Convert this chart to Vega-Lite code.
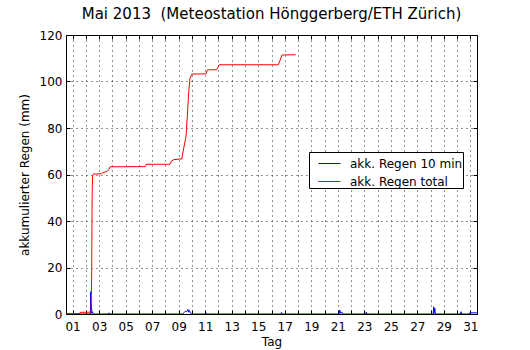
{
  "$schema": "https://vega.github.io/schema/vega-lite/v6.json",
  "width": 411,
  "height": 279,
  "autosize": {"type": "none"},
  "padding": {"left": 66, "top": 35, "right": 53, "bottom": 36},
  "background": "white",
  "title": {"text": "Mai 2013\u00a0 (Meteostation Hönggerberg/ETH Zürich)", "fontSize": 15, "fontWeight": "normal", "font": "DejaVu Sans", "color": "black", "offset": 7, "anchor": "middle"},
  "config": {
    "font": "DejaVu Sans",
    "view": {"stroke": "black", "strokeWidth": 1},
    "axis": {"labelFont": "DejaVu Sans", "titleFont": "DejaVu Sans", "labelColor": "black", "titleColor": "black", "tickColor": "black", "domain": false, "labelFontSize": 12, "titleFontSize": 12, "titleFontWeight": "normal", "gridColor": "black", "gridDash": [1, 4], "gridOpacity": 0.85, "gridWidth": 1}
  },
  "datasets": {
    "total": [
      {"t": 0, "v": 0.2, "s": "akk. Regen total"},
      {"t": 1.05, "v": 0.2, "s": "akk. Regen total"},
      {"t": 1.06, "v": 0.7, "s": "akk. Regen total"},
      {"t": 1.9, "v": 0.8, "s": "akk. Regen total"},
      {"t": 1.94, "v": 20, "s": "akk. Regen total"},
      {"t": 1.97, "v": 50, "s": "akk. Regen total"},
      {"t": 2.0, "v": 59, "s": "akk. Regen total"},
      {"t": 2.05, "v": 60.2, "s": "akk. Regen total"},
      {"t": 2.69, "v": 60.3, "s": "akk. Regen total"},
      {"t": 2.75, "v": 60.8, "s": "akk. Regen total"},
      {"t": 3.02, "v": 61.2, "s": "akk. Regen total"},
      {"t": 3.15, "v": 61.6, "s": "akk. Regen total"},
      {"t": 3.24, "v": 62.2, "s": "akk. Regen total"},
      {"t": 3.32, "v": 63.3, "s": "akk. Regen total"},
      {"t": 5.96, "v": 63.4, "s": "akk. Regen total"},
      {"t": 6.05, "v": 64.4, "s": "akk. Regen total"},
      {"t": 7.84, "v": 64.4, "s": "akk. Regen total"},
      {"t": 7.95, "v": 65.8, "s": "akk. Regen total"},
      {"t": 8.14, "v": 66.4, "s": "akk. Regen total"},
      {"t": 8.73, "v": 66.7, "s": "akk. Regen total"},
      {"t": 8.85, "v": 70.5, "s": "akk. Regen total"},
      {"t": 9.05, "v": 76.3, "s": "akk. Regen total"},
      {"t": 9.15, "v": 85, "s": "akk. Regen total"},
      {"t": 9.25, "v": 95, "s": "akk. Regen total"},
      {"t": 9.35, "v": 101.4, "s": "akk. Regen total"},
      {"t": 9.5, "v": 103.2, "s": "akk. Regen total"},
      {"t": 10.56, "v": 103.3, "s": "akk. Regen total"},
      {"t": 10.66, "v": 105, "s": "akk. Regen total"},
      {"t": 11.37, "v": 105.1, "s": "akk. Regen total"},
      {"t": 11.56, "v": 107.2, "s": "akk. Regen total"},
      {"t": 16.01, "v": 107.2, "s": "akk. Regen total"},
      {"t": 16.14, "v": 109, "s": "akk. Regen total"},
      {"t": 16.29, "v": 111.4, "s": "akk. Regen total"},
      {"t": 17.32, "v": 111.5, "s": "akk. Regen total"}
    ],
    "tenmin": [
      {"t": 0, "v": 0, "s": "akk. Regen 10 min"},
      {"t": 1.84, "v": 0, "s": "akk. Regen 10 min"},
      {"t": 1.86, "v": 9.6, "s": "akk. Regen 10 min"},
      {"t": 1.88, "v": 0.5, "s": "akk. Regen 10 min"},
      {"t": 1.92, "v": 4, "s": "akk. Regen 10 min"},
      {"t": 1.95, "v": 0.3, "s": "akk. Regen 10 min"},
      {"t": 2.0, "v": 1, "s": "akk. Regen 10 min"},
      {"t": 2.05, "v": 0, "s": "akk. Regen 10 min"},
      {"t": 3.2, "v": 0, "s": "akk. Regen 10 min"},
      {"t": 3.25, "v": 0.5, "s": "akk. Regen 10 min"},
      {"t": 3.3, "v": 0, "s": "akk. Regen 10 min"},
      {"t": 8.8, "v": 0, "s": "akk. Regen 10 min"},
      {"t": 8.9, "v": 0.6, "s": "akk. Regen 10 min"},
      {"t": 9.0, "v": 1.2, "s": "akk. Regen 10 min"},
      {"t": 9.1, "v": 1.0, "s": "akk. Regen 10 min"},
      {"t": 9.2, "v": 2.0, "s": "akk. Regen 10 min"},
      {"t": 9.25, "v": 0.8, "s": "akk. Regen 10 min"},
      {"t": 9.3, "v": 1.5, "s": "akk. Regen 10 min"},
      {"t": 9.4, "v": 0.3, "s": "akk. Regen 10 min"},
      {"t": 9.5, "v": 0, "s": "akk. Regen 10 min"},
      {"t": 10.5, "v": 0, "s": "akk. Regen 10 min"},
      {"t": 10.55, "v": 0.6, "s": "akk. Regen 10 min"},
      {"t": 10.6, "v": 0, "s": "akk. Regen 10 min"},
      {"t": 16.2, "v": 0, "s": "akk. Regen 10 min"},
      {"t": 16.26, "v": 0.7, "s": "akk. Regen 10 min"},
      {"t": 16.3, "v": 0, "s": "akk. Regen 10 min"},
      {"t": 20.6, "v": 0, "s": "akk. Regen 10 min"},
      {"t": 20.65, "v": 1.7, "s": "akk. Regen 10 min"},
      {"t": 20.7, "v": 0.3, "s": "akk. Regen 10 min"},
      {"t": 20.8, "v": 0.9, "s": "akk. Regen 10 min"},
      {"t": 20.85, "v": 0, "s": "akk. Regen 10 min"},
      {"t": 22.6, "v": 0, "s": "akk. Regen 10 min"},
      {"t": 22.65, "v": 0.8, "s": "akk. Regen 10 min"},
      {"t": 22.7, "v": 0, "s": "akk. Regen 10 min"},
      {"t": 27.7, "v": 0, "s": "akk. Regen 10 min"},
      {"t": 27.73, "v": 3.1, "s": "akk. Regen 10 min"},
      {"t": 27.76, "v": 0.3, "s": "akk. Regen 10 min"},
      {"t": 27.82, "v": 2.5, "s": "akk. Regen 10 min"},
      {"t": 27.85, "v": 0, "s": "akk. Regen 10 min"},
      {"t": 29.75, "v": 0, "s": "akk. Regen 10 min"},
      {"t": 29.8, "v": 1, "s": "akk. Regen 10 min"},
      {"t": 29.85, "v": 0, "s": "akk. Regen 10 min"},
      {"t": 30.4, "v": 0, "s": "akk. Regen 10 min"},
      {"t": 30.45, "v": 0.5, "s": "akk. Regen 10 min"},
      {"t": 31, "v": 0.5, "s": "akk. Regen 10 min"}
    ]
  },
  "resolve": {"scale": {"x": "independent", "y": "independent"}, "axis": {"x": "independent", "y": "independent"}},
  "layer": [
    {
      "data": {"name": "tenmin"},
      "mark": {"type": "line", "strokeWidth": 1, "clip": true},
      "encoding": {
        "x": {"field": "t", "type": "quantitative", "scale": {"domain": [0, 31], "nice": false, "zero": false},
          "axis": {"orient": "bottom", "title": "Tag", "titlePadding": 4, "values": [0.5,1.5,2.5,3.5,4.5,5.5,6.5,7.5,8.5,9.5,10.5,11.5,12.5,13.5,14.5,15.5,16.5,17.5,18.5,19.5,20.5,21.5,22.5,23.5,24.5,25.5,26.5,27.5,28.5,29.5,30.5],
            "labelExpr": "floor(datum.value) % 2 == 0 ? ((floor(datum.value) + 1 < 10 ? '0' : '') + (floor(datum.value) + 1)) : ''",
            "tickSize": -4, "labelPadding": 11, "grid": true, "labelFlush": false, "labelOverlap": false}},
        "y": {"field": "v", "type": "quantitative", "scale": {"domain": [0, 120], "nice": false},
          "axis": {"orient": "left", "title": "akkumulierter Regen (mm)", "titlePadding": 8, "values": [0,20,40,60,80,100,120], "tickSize": -4, "labelPadding": 8, "grid": true}},
        "color": {"field": "s", "type": "nominal", "scale": {"domain": ["akk. Regen 10 min", "akk. Regen total"], "range": ["#0000ff", "#ff0000"]},
          "legend": {"orient": "none", "legendX": 243, "legendY": 117, "zindex": 5, "title": null, "strokeColor": "black", "fillColor": "white", "padding": 0, "symbolOffset": 9, "symbolType": "stroke", "symbolSize": 484, "symbolStrokeWidth": 1, "labelFontSize": 12, "labelFont": "DejaVu Sans", "labelColor": "black", "labelOffset": 9, "rowPadding": -1, "cornerRadius": 0, "labelLimit": 400}}
      }
    },
    {
      "data": {"name": "total"},
      "mark": {"type": "line", "strokeWidth": 1, "clip": true},
      "encoding": {
        "x": {"field": "t", "type": "quantitative", "scale": {"domain": [0, 31], "nice": false, "zero": false},
          "axis": {"orient": "top", "title": null, "labels": false, "grid": false, "tickSize": -4, "values": [0.5,1.5,2.5,3.5,4.5,5.5,6.5,7.5,8.5,9.5,10.5,11.5,12.5,13.5,14.5,15.5,16.5,17.5,18.5,19.5,20.5,21.5,22.5,23.5,24.5,25.5,26.5,27.5,28.5,29.5,30.5]}},
        "y": {"field": "v", "type": "quantitative", "scale": {"domain": [0, 120], "nice": false},
          "axis": {"orient": "right", "title": null, "labels": false, "grid": false, "tickSize": -4, "values": [0,20,40,60,80,100,120]}},
        "color": {"field": "s", "type": "nominal"}
      }
    }
  ]
}
